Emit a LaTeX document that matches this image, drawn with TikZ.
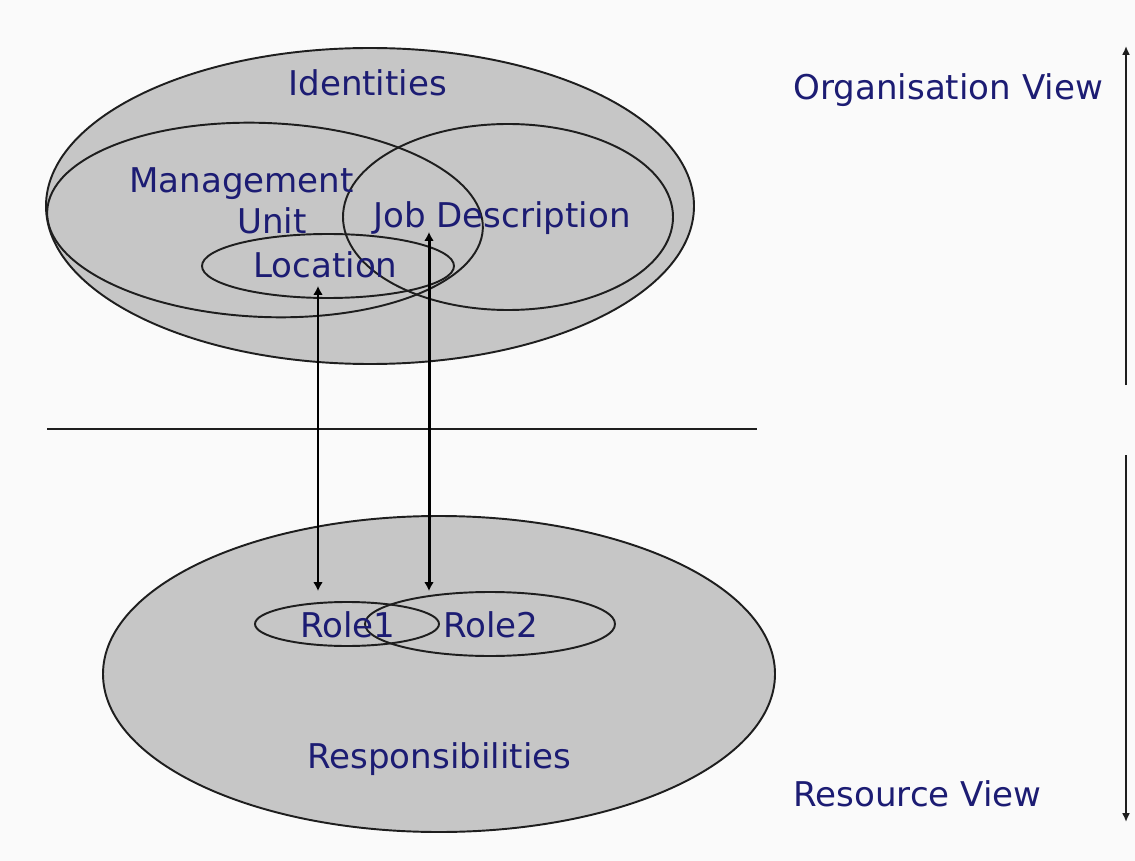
\documentclass[tikz,border=0pt]{standalone}
\usepackage{fontspec}
\setmainfont{DejaVu Sans}
\usetikzlibrary{arrows.meta}
\definecolor{paper}{RGB}{250,250,250}
\definecolor{setfill}{RGB}{198,198,198}
\definecolor{ink}{RGB}{30,30,30}
\definecolor{labelblue}{RGB}{28,28,115}
\begin{document}
\begin{tikzpicture}[x=0.02cm,y=-0.02cm,
  setline/.style={draw=ink,line width=1.1pt},
  lbl/.style={text=labelblue,font=\fontsize{19.4}{23}\selectfont,inner sep=0pt,anchor=base west},
  link/.style={draw=black,line width=1.7pt,{Latex[length=5pt,width=5.5pt]}-{Latex[length=5pt,width=5.5pt]}},
  viewarrow/.style={draw=ink,line width=1.1pt,-{Latex[length=5pt,width=4.5pt]}}]
\fill[paper] (0,0) rectangle (1135,861);
\useasboundingbox (0,0) rectangle (1135,861);

% Organisation view: sets of identities
\draw[setline,fill=setfill] (370,206) ellipse (324 and 158);
\draw[setline,shift={(265,220)},rotate=-2.3] (0,0) ellipse (218 and 97);
\draw[setline] (508,217) ellipse (165 and 93);
\draw[setline] (328,266) ellipse (126 and 32);

\node[lbl] (identities) at (288,96) {Identities};
\node[lbl] (management) at (129,193) {Management};
\node[lbl] (unit) at (237,234) {Unit};
\node[lbl] (jobdesc) at (373,228) {Job Description};
\node[lbl] (location) at (253,278) {Location};

% Separator between the two views
\coordinate (sepL) at (47,429);
\coordinate (sepR) at (757,429);
\draw[ink,line width=0.8pt] (sepL) -- (sepR);

% Resource view: responsibilities and roles
\draw[setline,fill=setfill] (439,674) ellipse (336 and 158);
\draw[setline] (347,624) ellipse (92 and 22);
\draw[setline] (490,624) ellipse (125 and 32);

\node[lbl] (role1) at (300,637) {Role1};
\node[lbl] (role2) at (443,637) {Role2};
\node[lbl] (resp) at (307,768) {Responsibilities};

% Mappings between the views
\coordinate (locEnd) at (318,286);
\coordinate (roleOneEnd) at (318,591);
\coordinate (jobEnd) at (429,232);
\coordinate (roleTwoEnd) at (429,591);
\draw[link] (locEnd) -- (roleOneEnd);
\draw[link] (jobEnd) -- (roleTwoEnd);

% View labels and extent arrows
\node[lbl] (orgview) at (793,100) {Organisation View};
\node[lbl] (resview) at (793,806) {Resource View};
\coordinate (orgBase) at (1126,385);
\coordinate (orgTop) at (1126,46);
\coordinate (resTop) at (1126,455);
\coordinate (resBottom) at (1126,822);
\draw[viewarrow] (orgBase) -- (orgTop);
\draw[viewarrow] (resTop) -- (resBottom);
\end{tikzpicture}
\end{document}
